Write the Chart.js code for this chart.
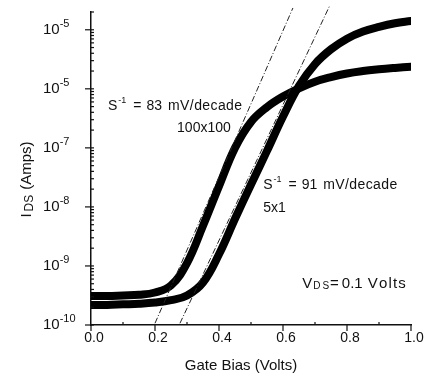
<!DOCTYPE html>
<html>
<head>
<meta charset="utf-8">
<script src="https://cdn.jsdelivr.net/npm/chart.js@4.4.1/dist/chart.umd.min.js"></script>
<style>
  html, body { margin: 0; padding: 0; background: #fff; }
  #wrap { width: 428px; height: 386px; }
</style>
</head>
<body>
<div id="wrap"><canvas id="c" width="428" height="386"></canvas></div>
<script>
// gate bias sweep (Volts)
const gateBias = [0, 0.05, 0.1, 0.15, 0.2, 0.25, 0.3, 0.35, 0.4, 0.45, 0.5,
    0.55, 0.6, 0.65, 0.7, 0.75, 0.8, 0.85, 0.9, 0.95, 1.0];

// I_DS (Amps) for the 100x100 device
const ids100x100 = [3.09e-10, 3.09e-10, 3.16e-10, 3.24e-10, 3.55e-10, 4.68e-10,
    1.12e-9, 4.8e-9, 2.24e-8, 1.0e-7, 2.75e-7, 4.9e-7, 7.4e-7, 1.02e-6,
    1.32e-6, 1.58e-6, 1.82e-6, 2.0e-6, 2.14e-6, 2.26e-6, 2.37e-6];

// I_DS (Amps) for the 5x1 device
const ids5x1 = [2.19e-10, 2.19e-10, 2.24e-10, 2.29e-10, 2.4e-10, 2.63e-10,
    3.16e-10, 5.25e-10, 1.58e-9, 6.3e-9, 2.4e-8, 8.9e-8, 3.4e-7, 1.12e-6,
    2.63e-6, 4.68e-6, 7.08e-6, 9.33e-6, 1.12e-5, 1.29e-5, 1.41e-5];

// subthreshold slope tangent lines (end points)
const slope83 = [{ x: 0.2, y: 1.07e-10 }, { x: 0.631, y: 2.34e-5 }];
const slope91 = [{ x: 0.278, y: 1.07e-10 }, { x: 0.747, y: 2.63e-5 }];

const xTicks = [0, 0.2, 0.4, 0.6, 0.8, 1.0];
const xTickLabels = ["0.0", "0.2", "0.4", "0.6", "0.8", "1.0"];
const yTicks = [1e-10, 1e-9, 1e-8, 1e-7, 1e-6, 1e-5];
const yTickExps = ["-10", "-9", "-8", "-7", "-5", "-5"];

const FONT = "Liberation Sans, Arial, sans-serif";
const INK = "#111";

function toPoints(xs, ys) {
    return xs.map((x, i) => ({ x: x, y: ys[i] }));
}

// draws a run of text pieces with different sizes / offsets / spacing
function drawRich(ctx, x, y, parts) {
    ctx.save();
    ctx.fillStyle = INK;
    ctx.textBaseline = "middle";
    ctx.textAlign = "left";
    let cx = x;
    parts.forEach((p) => {
        ctx.font = (p.size || 14) + "px " + FONT;
        cx += p.gap || 0;
        const ls = p.ls || 0;
        if (ls) {
            for (const ch of p.t) {
                ctx.fillText(ch, cx, y + (p.dy || 0));
                cx += ctx.measureText(ch).width + ls;
            }
        } else {
            ctx.fillText(p.t, cx, y + (p.dy || 0));
            cx += ctx.measureText(p.t).width;
        }
    });
    ctx.restore();
    return cx - x;
}

function richWidth(ctx, parts) {
    let w = 0;
    ctx.save();
    parts.forEach((p) => {
        ctx.font = (p.size || 14) + "px " + FONT;
        w += (p.gap || 0) + ctx.measureText(p.t).width + (p.ls || 0) * p.t.length;
    });
    ctx.restore();
    return w;
}

const axesPlugin = {
    id: "axesDecor",
    afterDraw(chart) {
        const ctx = chart.ctx;
        const xs = chart.scales.x;
        const ys = chart.scales.y;
        const area = chart.chartArea;
        ctx.save();
        ctx.strokeStyle = INK;
        ctx.lineWidth = 1.2;

        // y ticks: major out, minor in
        yTicks.forEach((v) => {
            const py = ys.getPixelForValue(v);
            ctx.beginPath();
            ctx.moveTo(area.left - 6, py);
            ctx.lineTo(area.left + 3, py);
            ctx.stroke();
            for (let m = 2; m <= 9; m++) {
                const mv = v * m;
                if (mv > ys.max) break;
                const my = ys.getPixelForValue(mv);
                ctx.beginPath();
                ctx.moveTo(area.left, my);
                ctx.lineTo(area.left + 3, my);
                ctx.stroke();
            }
        });

        // x ticks
        xTicks.forEach((v) => {
            const px = xs.getPixelForValue(v);
            ctx.beginPath();
            ctx.moveTo(px, area.bottom);
            ctx.lineTo(px, area.bottom + 6);
            ctx.stroke();
        });
        [0.1, 0.3, 0.5, 0.7, 0.9].forEach((v) => {
            const px = xs.getPixelForValue(v);
            ctx.beginPath();
            ctx.moveTo(px, area.bottom);
            ctx.lineTo(px, area.bottom - 3);
            ctx.stroke();
        });
        ctx.restore();

        // x tick labels
        ctx.save();
        ctx.fillStyle = INK;
        ctx.font = "14px " + FONT;
        ctx.textAlign = "center";
        ctx.textBaseline = "middle";
        xTicks.forEach((v, i) => {
            ctx.fillText(xTickLabels[i], xs.getPixelForValue(v) + 3, area.bottom + 13);
        });
        // x title
        ctx.font = "15px " + FONT;
        ctx.fillText("Gate Bias (Volts)", (area.left + area.right) / 2 - 10, area.bottom + 41);
        ctx.restore();

        // y tick labels 10^n
        yTicks.forEach((v, i) => {
            const py = ys.getPixelForValue(v);
            drawRich(ctx, 43, py, [
                { t: "10", size: 15 },
                { t: yTickExps[i], size: 11, dy: -6 }
            ]);
        });

        // y title (rotated)
        const parts = [
            { t: "I", size: 15, dy: 0 },
            { t: "DS", size: 12, dy: 3, gap: 2 },
            { t: "(Amps)", size: 15, dy: 0, gap: 5 }
        ];
        const total = richWidth(ctx, parts);
        ctx.save();
        ctx.translate(27, (area.top + area.bottom) / 2 + 11);
        ctx.rotate(-Math.PI / 2);
        drawRich(ctx, -total / 2, 0, parts);
        ctx.restore();

        // annotations, placed in data space
        const at = (vx, vy) => [xs.getPixelForValue(vx), ys.getPixelForValue(vy)];
        const slopeText = (n) => [
            { t: "S" }, { t: "-1", size: 9, dy: -6, gap: 1 },
            { t: "=", gap: 7 }, { t: n, gap: 5 }, { t: "mV/decade", gap: 6, ls: 0.4 }
        ];
        let p = at(0.053, 5.0e-7);
        drawRich(ctx, p[0], p[1], slopeText("83"));
        p = at(0.269, 2.2e-7);
        drawRich(ctx, p[0], p[1], [{ t: "100x100" }]);
        p = at(0.538, 2.3e-8);
        drawRich(ctx, p[0], p[1], slopeText("91"));
        p = at(0.538, 9.7e-9);
        drawRich(ctx, p[0], p[1], [{ t: "5x1" }]);
        p = at(0.66, 4.95e-10);
        drawRich(ctx, p[0], p[1], [
            { t: "V", size: 15 },
            { t: "D", size: 10, dy: 2, gap: 1 },
            { t: "S", size: 10, dy: 2, gap: 2 },
            { t: "=", size: 15, gap: 1 },
            { t: "0.1", size: 15, gap: 3 },
            { t: "Volts", size: 15, gap: 5, ls: 1.2 }
        ]);
    }
};

const curveStyle = {
    borderColor: "#000",
    backgroundColor: "#000",
    borderWidth: 8,
    pointRadius: 0,
    showLine: true,
    fill: false,
    tension: 0.4,
    borderCapStyle: "round",
    borderJoinStyle: "round"
};

const dashStyle = {
    borderColor: "#222",
    borderWidth: 1,
    borderDash: [6, 2, 1, 2],
    pointRadius: 0,
    showLine: true,
    fill: false,
    clip: false
};

new Chart(document.getElementById("c"), {
    type: "scatter",
    data: {
        datasets: [
            Object.assign({ label: "slope 83", data: slope83 }, dashStyle),
            Object.assign({ label: "slope 91", data: slope91 }, dashStyle),
            Object.assign({ label: "100x100", data: toPoints(gateBias, ids100x100) }, curveStyle),
            Object.assign({ label: "5x1", data: toPoints(gateBias, ids5x1) }, curveStyle)
        ]
    },
    options: {
        responsive: false,
        animation: false,
        layout: { padding: { top: 12, right: 17, left: 0, bottom: 0 } },
        plugins: {
            legend: { display: false },
            tooltip: { enabled: false }
        },
        scales: {
            x: {
                type: "linear",
                min: 0,
                max: 1,
                ticks: { display: false },
                grid: { display: false },
                border: { display: true, color: INK, width: 1.5 },
                afterFit: (s) => { s.height = 61; }
            },
            y: {
                type: "logarithmic",
                min: 1e-10,
                max: 2e-5,
                ticks: { display: false },
                grid: { display: false },
                border: { display: true, color: INK, width: 1.5 },
                afterFit: (s) => { s.width = 91; }
            }
        }
    },
    plugins: [axesPlugin]
});
</script>
</body>
</html>
